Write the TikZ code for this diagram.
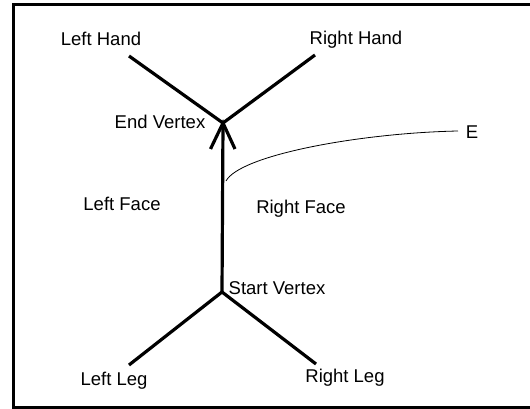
\documentclass[tikz,border=0pt]{standalone}
\usepackage{fontspec}
\setmainfont{Liberation Sans}
\begin{document}
\begin{tikzpicture}[x=1pt,y=-1pt,
  lbl/.style={font=\fontsize{18.5}{21}\selectfont, inner sep=0pt},
  edge/.style={line width=3.2pt},
  pt/.style={inner sep=0pt, minimum size=0pt}]
\useasboundingbox (0,0) rectangle (530,409);
% frame
\draw[line width=2.5pt] (532,4.5) -- (13.5,4.5) -- (13.5,407.5) -- (532,407.5);
% vertices
\coordinate (ev) at (223,123);
\coordinate (sv) at (222,292);
\coordinate (lh) at (129,56);
\coordinate (rh) at (315,55);
\coordinate (ll) at (129,365);
\coordinate (rl) at (316,364);
\coordinate (al) at (210.5,149);
\coordinate (ar) at (235,149);
\coordinate (cs) at (226,181);
\coordinate (ce) at (458,131);
% edges
\draw[edge] (lh) -- (ev) -- (rh);
\draw[edge] (ll) -- (sv) -- (rl);
\draw[edge] (sv) -- (ev);
\draw[edge, line join=miter] (al) -- (ev) -- (ar);
% labels
\node[lbl] (tlh) at (101,39) {Left Hand};
\node[lbl] (trh) at (356,40) {Right Hand};
\node[lbl] (tev) at (160,122) {End Vertex};
\node[lbl] (te) at (472,132) {E};
\node[lbl] (tlf) at (122,204) {Left Face};
\node[lbl] (trf) at (301,209) {Right Face};
\node[lbl] (tsv) at (277,288) {Start Vertex};
\node[lbl] (tll) at (114,381) {Left Leg};
\node[lbl] (trl) at (345,378) {Right Leg};
% leader
\draw[line width=0.8pt] (cs) .. controls (240,155) and (360,133) .. (ce);
\end{tikzpicture}
\end{document}
